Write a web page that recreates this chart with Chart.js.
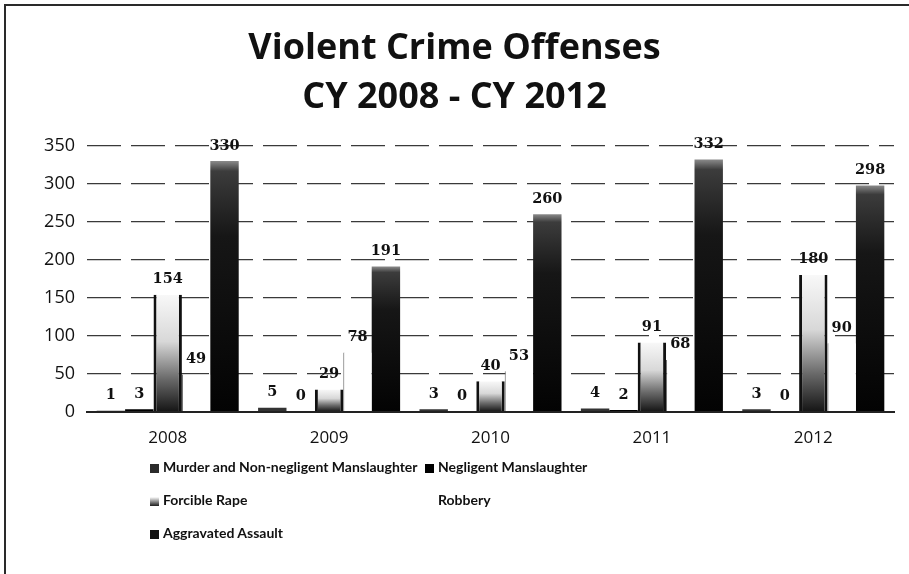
<!DOCTYPE html>
<html>
<head>
<meta charset="utf-8">
<title>Violent Crime Offenses CY 2008 - CY 2012</title>
<script src="https://cdn.jsdelivr.net/npm/chart.js@4.4.1/dist/chart.umd.min.js"></script>
<style>
  html, body { margin: 0; padding: 0; background: #fff; }
  #wrap { position: relative; width: 909px; height: 574px; overflow: hidden; }
  #frame { position: absolute; left: 4px; top: 4px; right: -4px; bottom: -4px;
           border-top: 2px solid #2a2a2a; border-left: 2px solid #2a2a2a; pointer-events: none; }
  #legend { position: absolute; left: 0; top: 0; width: 909px; height: 574px; pointer-events: none;
            font-family: Lato, "Open Sans", sans-serif; font-weight: bold; font-size: 14px; color: #111; }
  .item { position: absolute; white-space: nowrap; line-height: 16px; }
  .box { display: inline-block; width: 9px; height: 9px; margin-right: 4px; vertical-align: -1px; }
</style>
</head>
<body>
<div id="wrap">
  <canvas id="c" width="909" height="574"></canvas>
  <div id="legend"></div>
  <div id="frame"></div>
</div>
<script>
// Offense counts per calendar year
const years      = ['2008', '2009', '2010', '2011', '2012'];
const murder     = [1, 5, 3, 4, 3];
const negligent  = [3, 0, 0, 2, 0];
const rape       = [154, 29, 40, 91, 180];
const robbery    = [49, 78, 53, 68, 90];
const aggravated = [330, 191, 260, 332, 298];
const seriesNames = ['Murder and Non-negligent Manslaughter', 'Negligent Manslaughter',
                     'Forcible Rape', 'Robbery', 'Aggravated Assault'];
const yMax = 350, yStep = 50;

// Vertical gradient spanning a single bar, from its top down to zero
function barGradient(stops) {
  return (ctx) => {
    const chart = ctx.chart;
    const y = chart.scales && chart.scales.y;
    const last = stops[stops.length - 1][1];
    if (!chart.chartArea || !y || ctx.type !== 'data' || ctx.raw == null) return last;
    const top = y.getPixelForValue(ctx.raw), base = y.getPixelForValue(0);
    if (base - top < 1) return last;
    const g = chart.ctx.createLinearGradient(0, top, 0, base);
    stops.forEach(([o, c]) => g.addColorStop(o, c));
    return g;
  };
}

const rapeFill = barGradient([[0, '#f8f8f8'], [0.4, '#d8d8d8'], [0.72, '#6a6a6a'], [1, '#151515']]);
const aggFill  = barGradient([[0, '#8a8a8a'], [0.04, '#3c3c3c'], [0.3, '#161616'], [1, '#030303']]);

// Value printed above every bar
const valueLabels = {
  id: 'valueLabels',
  afterDatasetsDraw(chart) {
    const { ctx } = chart;
    ctx.save();
    ctx.font = 'bold 14.5px "DejaVu Serif", serif';
    ctx.fillStyle = '#111';
    ctx.textAlign = 'center';
    ctx.textBaseline = 'bottom';
    chart.data.datasets.forEach((ds, i) => {
      chart.getDatasetMeta(i).data.forEach((bar, j) => {
        ctx.fillText(String(ds.data[j]), bar.x, bar.y - 8);
      });
    });
    ctx.restore();
  }
};

const chart = new Chart(document.getElementById('c'), {
  type: 'bar',
  data: {
    labels: years,
    datasets: [
      { label: seriesNames[0], data: murder, backgroundColor: '#333333', borderWidth: 0 },
      { label: seriesNames[1], data: negligent, backgroundColor: '#000000', borderWidth: 0 },
      { label: seriesNames[2], data: rape, backgroundColor: rapeFill,
        borderColor: '#111', borderWidth: { left: 3, right: 3, top: 0, bottom: 0 }, borderSkipped: false },
      { label: seriesNames[3], data: robbery, backgroundColor: '#ffffff',
        borderColor: '#555', borderWidth: { left: 1, right: 0, top: 0, bottom: 0 }, borderSkipped: false },
      { label: seriesNames[4], data: aggravated, backgroundColor: aggFill, borderWidth: 0 }
    ]
  },
  options: {
    responsive: false,
    animation: false,
    devicePixelRatio: 1,
    datasets: { bar: { categoryPercentage: 0.88, barPercentage: 1.0 } },
    layout: { padding: { left: 0, right: 0, top: 4, bottom: 118 } },
    plugins: {
      legend: { display: false },
      tooltip: { enabled: false },
      title: {
        display: true,
        text: ['Violent Crime Offenses', 'CY 2008 - CY 2012'],
        color: '#111',
        font: { family: '"Open Sans"', weight: 'bold', size: 36, lineHeight: 1.36 },
        padding: { top: 20, bottom: 24 }
      }
    },
    scales: {
      x: {
        grid: { display: false },
        border: { display: true, color: '#222', width: 2 },
        ticks: { color: '#111', font: { family: '"Open Sans"', size: 17 }, padding: 8 }
      },
      y: {
        min: 0, max: yMax,
        afterFit: (s) => { s.width = 87; },
        border: { display: false, dash: [34, 10] },
        grid: { color: '#3a3a3a', lineWidth: 1.2, drawTicks: false },
        ticks: { stepSize: yStep, color: '#111', font: { family: '"Open Sans"', size: 18 }, padding: 12 }
      },
      // empty margin on the right of the plot
      yRight: {
        position: 'right',
        afterFit: (s) => { s.width = 15; },
        grid: { display: false },
        border: { display: false },
        ticks: { display: false }
      }
    }
  },
  plugins: [valueLabels]
});

// Legend laid out in two columns beneath the axis
const legendFills = ['#2b2b2b', '#000', 'linear-gradient(#fff, #1c1c1c)', 'transparent', '#111'];
const legendSlots = [[150, 459], [425, 459], [150, 492], [425, 492], [150, 525]];
const legendEl = document.getElementById('legend');
chart.data.datasets.forEach((ds, i) => {
  const item = document.createElement('div');
  item.className = 'item';
  item.style.left = legendSlots[i][0] + 'px';
  item.style.top = legendSlots[i][1] + 'px';
  const box = document.createElement('span');
  box.className = 'box';
  box.style.background = legendFills[i];
  item.appendChild(box);
  item.appendChild(document.createTextNode(ds.label));
  legendEl.appendChild(item);
});
</script>
</body>
</html>
